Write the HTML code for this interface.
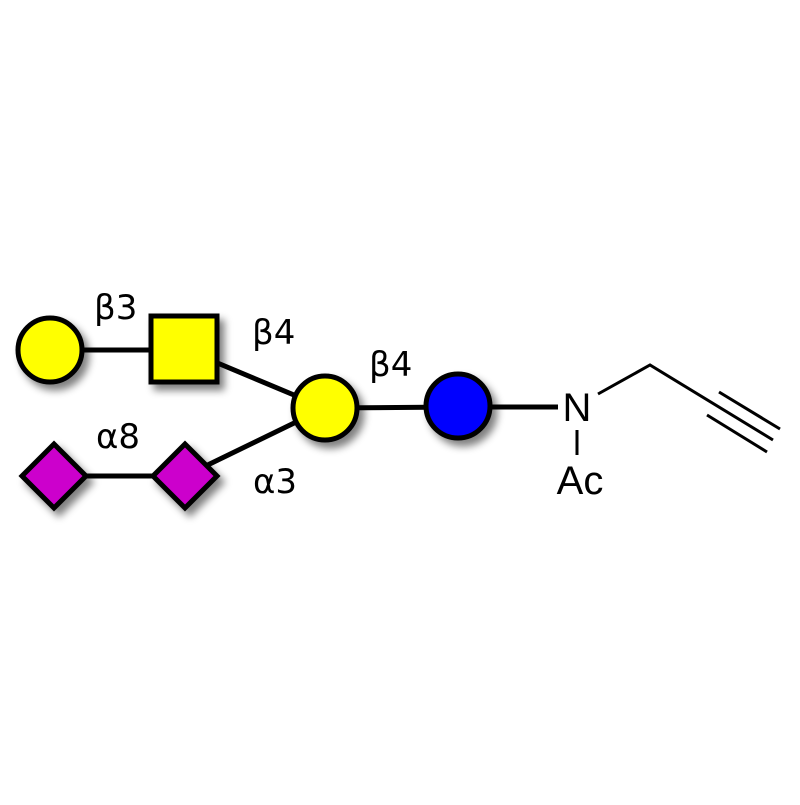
<!DOCTYPE html>
<html><head><meta charset="utf-8"><style>html,body{margin:0;padding:0;background:#fff}</style></head><body>
<svg width="800" height="800" viewBox="0 0 800 800" xmlns="http://www.w3.org/2000/svg">
<defs><filter id="sh" x="-50%" y="-50%" width="200%" height="200%"><feGaussianBlur in="SourceAlpha" stdDeviation="4"/><feOffset dx="5" dy="6"/><feComponentTransfer><feFuncA type="linear" slope="0.5"/></feComponentTransfer><feMerge><feMergeNode/><feMergeNode in="SourceGraphic"/></feMerge></filter></defs>
<g stroke="#000" stroke-width="5">
<line x1="50" y1="350" x2="184" y2="350"/>
<line x1="184" y1="349" x2="325" y2="408"/>
<line x1="54" y1="476" x2="185" y2="476"/>
<line x1="185" y1="476" x2="325" y2="408"/>
<line x1="325" y1="408" x2="458" y2="407"/>
<line x1="458" y1="407" x2="558" y2="407"/>
</g>
<g stroke="#000" stroke-width="3" fill="none">
<polyline points="598,394 650,365 773,440"/>
<line x1="719" y1="392" x2="780" y2="429"/>
<line x1="707" y1="415" x2="767" y2="452"/>
<line x1="577" y1="430" x2="577" y2="455"/>
</g>
<g stroke="#000" stroke-width="5" filter="url(#sh)">
<circle cx="50" cy="350" r="32" fill="#ffff00"/>
<rect x="151" y="316" width="66" height="66" fill="#ffff00"/>
<circle cx="325" cy="408" r="32" fill="#ffff00"/>
<circle cx="458" cy="406" r="32" fill="#0000ff"/>
<polygon points="54,444 86,476 54,508 22,476" fill="#cc00cc"/>
<polygon points="185,444 217,476 185,508 153,476" fill="#cc00cc"/>
</g>
<g font-family="DejaVu Sans, Liberation Sans, sans-serif" font-size="34" fill="#000">
<text x="94" y="319">β3</text>
<text x="252" y="344">β4</text>
<text x="369" y="376">β4</text>
<text x="96" y="448">α8</text>
<text x="253" y="493">α3</text>
</g>
<g font-family="Liberation Sans, sans-serif" font-size="40" fill="#000">
<text x="577" y="421" text-anchor="middle">N</text>
<text x="580" y="494" text-anchor="middle">Ac</text>
</g>
</svg>
</body></html>
